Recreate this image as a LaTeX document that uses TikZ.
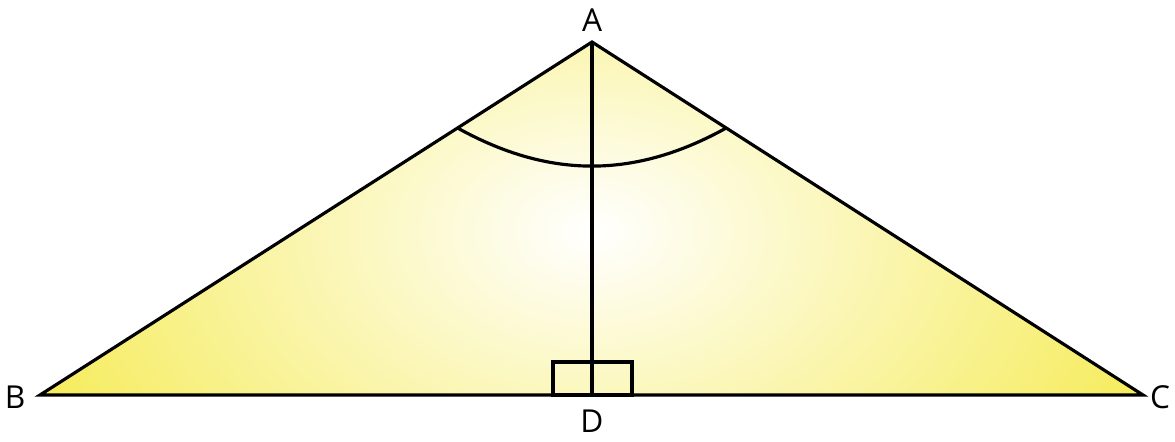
\documentclass[tikz,border=0pt]{standalone}
\usepackage{fontspec}
\setmainfont{Open Sans}
\usepackage{tikz}
\usetikzlibrary{calc}
\definecolor{triYellow}{RGB}{245,235,85}

\begin{document}
\begin{tikzpicture}[
  edge/.style={line width=1.8pt, line join=miter},
  lbl/.style={font=\fontsize{18}{21}\selectfont, inner sep=0pt}
]
  \useasboundingbox (0,0) rectangle (23.5,8.82);

  \coordinate (A) at (11.84,7.98);
  \coordinate (B) at (0.8,0.92);
  \coordinate (C) at (22.86,0.92);
  \coordinate (D) at (11.84,0.92);
  \coordinate (P) at ($(A)!0.2436!(B)$);
  \coordinate (Q) at ($(A)!0.2436!(C)$);

  % fill with a soft glow in the middle
  \fill[triYellow] (A) -- (B) -- (C) -- cycle;
  \begin{scope}
    \clip (A) -- (B) -- (C) -- cycle;
    \shade[inner color=white, outer color=triYellow] (11.84,4.2) ellipse (12.5cm and 8.5cm);
  \end{scope}

  \draw[edge] (A) -- (B) -- (C) -- cycle;
  \draw[edge] (A) -- (D);
  \draw[edge] (11.06,0.92) rectangle (12.64,1.58);
  \draw[edge] (P) to[bend right=29] (Q);

  \node[lbl] (labA) at (11.84,8.42) {A};
  \node[lbl] (labB) at (0.3,0.88) {B};
  \node[lbl] (labC) at (23.2,0.88) {C};
  \node[lbl] (labD) at (11.84,0.4) {D};
\end{tikzpicture}
\end{document}
